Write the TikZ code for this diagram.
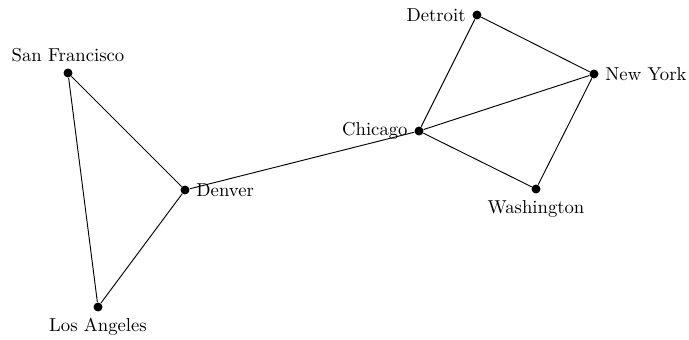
\documentclass[tikz,border=0pt]{standalone}
\begin{document}
\begin{tikzpicture}[x=0.535pt,y=-0.535pt,
  city/.style={circle,fill=black,inner sep=0pt,minimum size=4.8pt},
  road/.style={draw=black,line width=0.5pt}]
\useasboundingbox (0,0) rectangle (689,339);
\node[city,label=above:San Francisco] (sf) at (68,73) {};
\node[city,label=below:Los Angeles] (la) at (98,307) {};
\node[city,label=right:Denver] (den) at (185,190) {};
\node[city,label=left:Chicago] (chi) at (419,131) {};
\node[city,label=left:Detroit] (det) at (477,15) {};
\node[city,label=right:New York] (ny) at (594,74) {};
\node[city,label=below:Washington] (was) at (536,189) {};
\draw[road] (sf) -- (den);
\draw[road] (sf) -- (la);
\draw[road] (la) -- (den);
\draw[road] (den) -- (chi);
\draw[road] (chi) -- (det);
\draw[road] (chi) -- (ny);
\draw[road] (chi) -- (was);
\draw[road] (det) -- (ny);
\draw[road] (ny) -- (was);
\end{tikzpicture}
\end{document}
